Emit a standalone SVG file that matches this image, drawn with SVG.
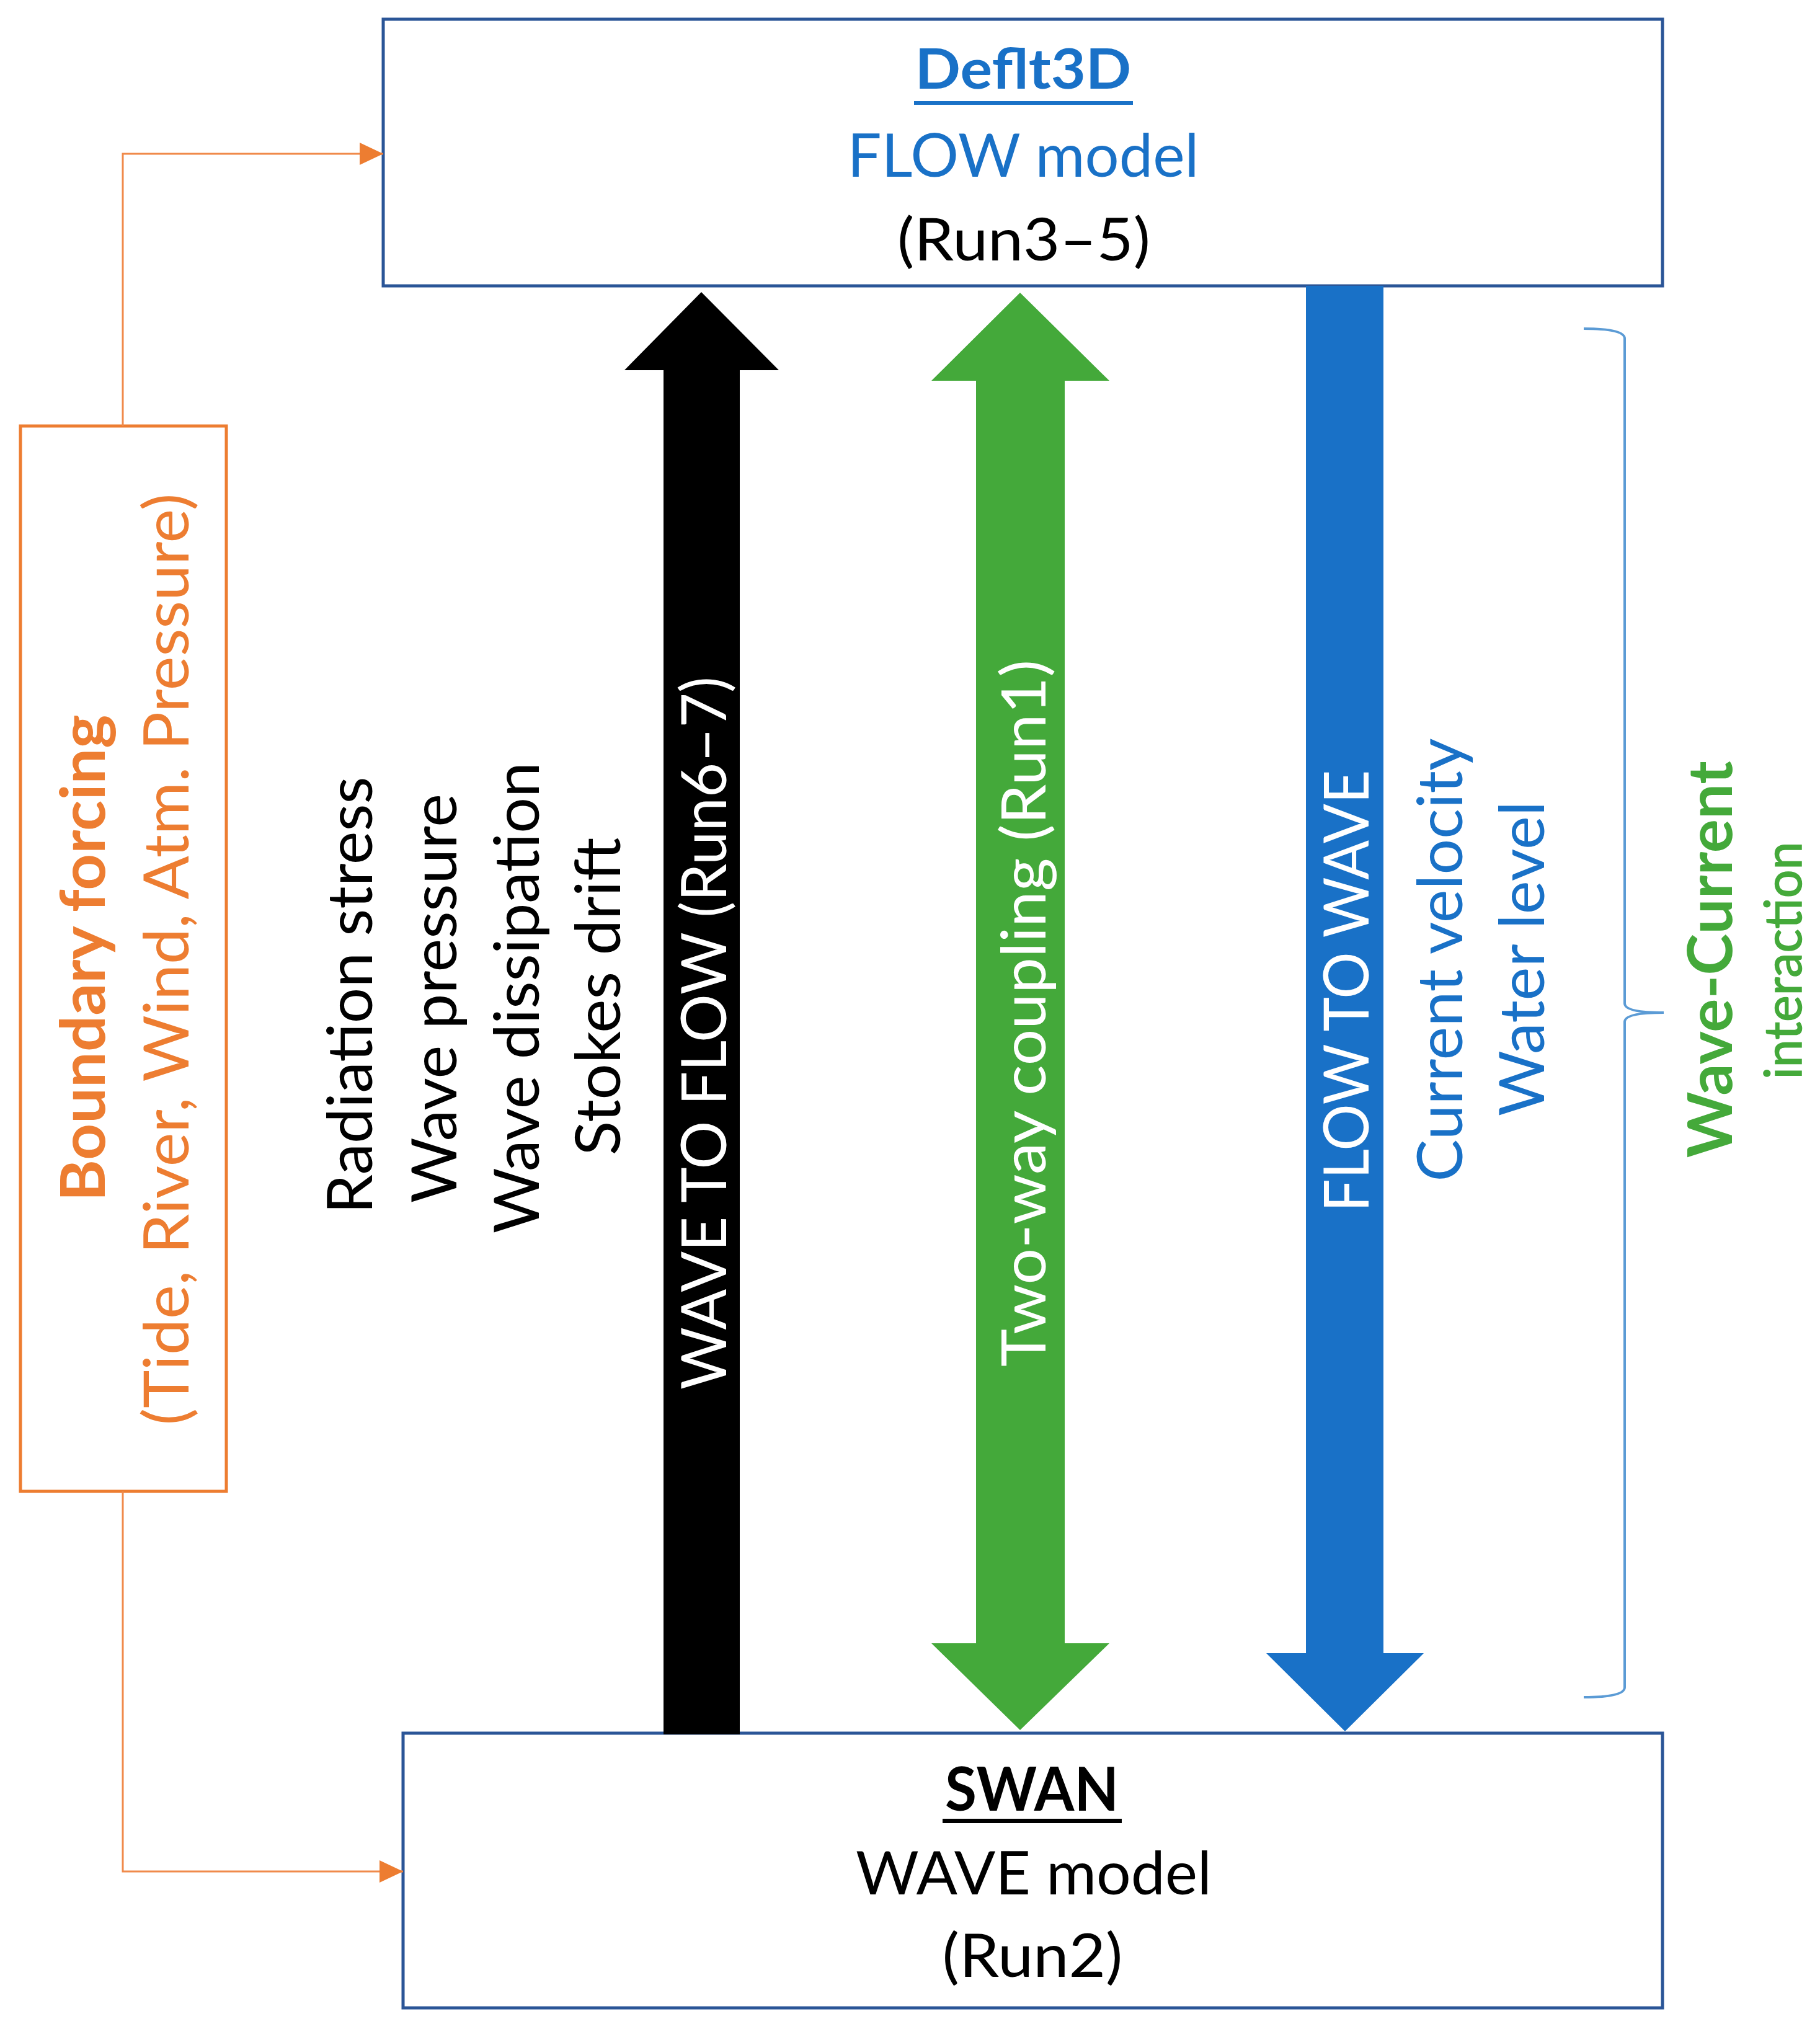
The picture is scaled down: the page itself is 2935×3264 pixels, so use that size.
<svg xmlns="http://www.w3.org/2000/svg" width="2935" height="3264" viewBox="0 0 2935 3264">
<style>
.t{font-family:Lato,"Open Sans","Liberation Sans",sans-serif;}
.b{font-weight:bold;}
.box{fill:#ffffff;stroke:#2A5597;stroke-width:5;}
.obox{fill:#ffffff;stroke:#ED7D31;stroke-width:5;}
.oline{fill:none;stroke:#F08A4B;stroke-width:3;}
.blue{fill:#1971C7;}
.green{fill:#44A93A;}
.orange{fill:#ED7D31;}
.white{fill:#ffffff;}
.black{fill:#000000;}
</style>
<defs>
<marker id="oarrow" markerUnits="userSpaceOnUse" markerWidth="38" markerHeight="36" refX="38" refY="18" orient="auto">
<path d="M0,0 L38,18 L0,36 Z" fill="#ED7D31"/>
</marker>
</defs>
<rect width="2935" height="3264" fill="#ffffff"/>

<g id="flow-node">
<rect class="box" x="618" y="31" width="2063" height="430"/>
<text class="t b blue" x="1650" y="143" font-size="90" text-anchor="middle" textLength="349" lengthAdjust="spacingAndGlyphs">Deflt3D</text>
<rect class="blue" x="1474" y="163" width="353" height="6"/>
<text class="t blue" x="1650" y="285" font-size="97" text-anchor="middle" textLength="567" lengthAdjust="spacingAndGlyphs">FLOW model</text>
<text class="t black" x="1651" y="420" font-size="95" text-anchor="middle" textLength="408" lengthAdjust="spacingAndGlyphs">(Run3–5)</text>
</g>

<g id="swan-node">
<rect class="box" x="650" y="2795" width="2031" height="443"/>
<text class="t b black" x="1664" y="2920" font-size="97" text-anchor="middle" textLength="280" lengthAdjust="spacingAndGlyphs">SWAN</text>
<rect class="black" x="1520" y="2933" width="289" height="7"/>
<text class="t black" x="1667" y="3055" font-size="97" text-anchor="middle" textLength="574" lengthAdjust="spacingAndGlyphs">WAVE model</text>
<text class="t black" x="1665" y="3188" font-size="97" text-anchor="middle" textLength="291" lengthAdjust="spacingAndGlyphs">(Run2)</text>
</g>

<g id="boundary-node">
<rect class="obox" x="33" y="687" width="332" height="1718"/>
<text class="t b orange" transform="translate(169,1545) rotate(-90)" font-size="100" text-anchor="middle" textLength="785" lengthAdjust="spacingAndGlyphs">Boundary forcing</text>
<text class="t orange" transform="translate(304,1547) rotate(-90)" font-size="100" text-anchor="middle" textLength="1503" lengthAdjust="spacingAndGlyphs">(Tide, River, Wind, Atm. Pressure)</text>
</g>

<g id="connectors">
<polyline class="oline" points="198,687 198,248 618,248" marker-end="url(#oarrow)"/>
<polyline class="oline" points="198,2405 198,3018 650,3018" marker-end="url(#oarrow)"/>
<polygon id="wave-to-flow" class="black" points="1131,471 1256,597 1193,597 1193,2797 1070,2797 1070,597 1007,597"/>
<polygon id="two-way" class="green" points="1645,472 1789,614 1717,614 1717,2650 1789,2650 1645,2790 1502,2650 1574,2650 1574,614 1502,614"/>
<polygon id="flow-to-wave" class="blue" points="2106,461 2231,461 2231,2666 2296,2666 2169,2792 2042,2666 2106,2666"/>
<path id="brace" d="M2554,530 Q2620,530 2620,546 L2620,1618 Q2620,1633 2683,1633 Q2620,1633 2620,1648 L2620,2721 Q2620,2737 2554,2737" fill="none" stroke="#5B9BD5" stroke-width="4"/>
</g>

<g id="labels">
<text class="t white" transform="translate(1171,1666) rotate(-90)" font-size="100" text-anchor="middle" textLength="1150" lengthAdjust="spacingAndGlyphs">WAVE TO FLOW (Run6–7)</text>
<text class="t white" transform="translate(1686,1634) rotate(-90)" font-size="98" text-anchor="middle" textLength="1140" lengthAdjust="spacingAndGlyphs">Two-way coupling (Run1)</text>
<text class="t white" transform="translate(2207,1598) rotate(-90)" font-size="100" text-anchor="middle" textLength="713" lengthAdjust="spacingAndGlyphs">FLOW TO WAVE</text>
<text class="t black" transform="translate(600,1605) rotate(-90)" font-size="100" text-anchor="middle" textLength="705" lengthAdjust="spacingAndGlyphs">Radiation stress</text>
<text class="t black" transform="translate(736,1610) rotate(-90)" font-size="100" text-anchor="middle" textLength="660" lengthAdjust="spacingAndGlyphs">Wave pressure</text>
<text class="t black" transform="translate(869,1609) rotate(-90)" font-size="100" text-anchor="middle" textLength="760" lengthAdjust="spacingAndGlyphs">Wave dissipation</text>
<text class="t black" transform="translate(1000,1607) rotate(-90)" font-size="100" text-anchor="middle" textLength="513" lengthAdjust="spacingAndGlyphs">Stokes drift</text>
<text class="t blue" transform="translate(2358,1548) rotate(-90)" font-size="100" text-anchor="middle" textLength="715" lengthAdjust="spacingAndGlyphs">Current velocity</text>
<text class="t blue" transform="translate(2490,1546) rotate(-90)" font-size="100" text-anchor="middle" textLength="508" lengthAdjust="spacingAndGlyphs">Water level</text>
<text class="t b green" transform="translate(2793,1547) rotate(-90)" font-size="100" text-anchor="middle" textLength="640" lengthAdjust="spacingAndGlyphs">Wave-Current</text>
<text class="t green" transform="translate(2905,1549) rotate(-90)" font-size="84" text-anchor="middle" textLength="383" lengthAdjust="spacingAndGlyphs" stroke="#44A93A" stroke-width="1.5">interaction</text>
</g>
</svg>
